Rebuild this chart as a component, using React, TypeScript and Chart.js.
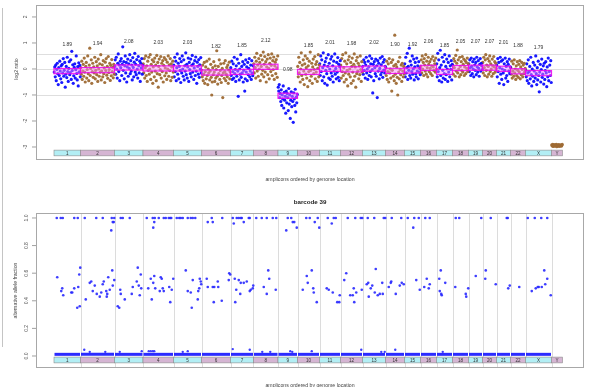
import React, { useEffect, useRef } from "react";
import { Chart, registerables } from "chart.js";

Chart.register(...registerables);

// ---------- data ----------
const chromNames = ["1","2","3","4","5","6","7","8","9","10","11","12","13","14","15","16","17","18","19","20","21","22","X","Y"];
const copyNumbers: (number | null)[] = [1.89,1.94,2.08,2.03,2.03,1.82,1.85,2.12,0.98,1.85,2.01,1.98,2.02,1.90,1.92,2.06,1.85,2.05,2.07,2.07,2.01,1.88,1.79,null];

// log2 ratio of each amplicon, in hundredths, in genome order
const chr1 = [-12,8,-30,15,-45,-2,22,-18,-60,5,-25,30,-8,-38,12,-52,18,-15,40,-28,-5,25,-70,-20,10,-33,45,-10,-48,2,28,-22,-14,35,-40,68,-6,16,-55,-26,6,20,-35,-3,50,-17,-42,9,-65,24,-11,14,-30];
const chr2 = [5,-20,30,-40,-8,18,-28,42,-12,-50,10,25,-35,-2,50,-18,-45,15,80,-25,2,35,-55,-10,22,-32,8,-15,45,-38,-5,28,-22,12,-48,38,0,-28,20,-12,55,-42,-8,16,-30,32,-18,4,-52,26,-6,40,-24,10,-36,48,-14,-2,22,-44,14,-26,36,-10,6,-34,18,-20];
const chr3 = [10,35,-20,45,0,-35,22,58,-10,15,-45,30,5,40,-25,18,85,-5,28,-38,12,50,-15,25,-50,8,38,-28,20,2,55,-18,32,-8,15,-42,44,6,-30,26,60,-12,18,-22,36,0,-35,48,12,-15,30,-48,22,4,40,-20,14];
const chr4 = [20,-15,40,-35,5,50,-25,12,-48,30,-5,45,-20,0,55,-40,18,-12,35,-55,8,28,-30,42,-8,15,-45,52,-18,25,-70,10,38,-22,-2,48,-35,22,-10,32,-50,14,44,-26,4,36,-15,-40,26,0,50,-28,16,-6,40,-45,20,8,-32,30,-12];
const chr5 = [15,-30,45,-10,30,-45,5,58,-20,22,-38,10,40,-5,-52,28,-15,50,0,-28,35,-42,12,-8,62,-22,18,-35,8,42,-48,25,-2,-18,38,-30,14,52,-12,20,-40,4,32,-25,46,-8,-55,26,10,-20,36,-32,16,0,44,-15];
const chr6 = [-5,-30,15,-45,-20,25,-55,-10,8,-38,30,-25,-60,0,-15,38,-42,-8,18,-32,-100,-50,5,-22,28,-12,-48,12,-35,-2,70,-28,-58,10,-18,35,-40,-6,20,-52,-25,2,-110,-15,22,-36,-10,32,-45,-20,6,-30,15,-55,-4,26,-38,-12];
const chr7 = [5,-25,30,-40,-10,20,-35,45,-18,-2,-48,12,-28,38,-8,-105,22,-42,0,-20,55,-32,10,-15,28,-50,-5,18,-85,-38,35,-12,8,-45,25,-22,2,40,-30,-8,15,-40,32,-16,-26,12];
const chr8 = [20,-15,45,5,-35,30,60,-8,15,-28,40,0,25,-45,52,10,-20,35,-5,65,-30,18,48,-12,28,-50,8,38,-22,55,2,-38,22,42,-10,14,58,-25,32,-2,46,-40,12,26,-18,36,4,-32,50];
const chr9 = [-70,-85,-60,-110,-95,-125,-80,-140,-100,-115,-65,-150,-90,-120,-105,-170,-85,-130,-95,-110,-160,-75,-135,-100,-190,-120,-88,-145,-105,-125,-205,-92,-115,-140,-78,-165,-108,-130,-98];
const chr10 = [10,-30,45,-15,25,-50,0,62,-25,15,-40,35,-8,-60,20,50,-20,5,-35,40,-68,12,-10,30,-45,65,-5,-28,22,-55,8,38,-18,-2,48,-38,18,-12,28,-48,2,55,-30,15];
const chr11 = [20,-25,50,-10,35,-45,5,62,-30,15,-55,28,-5,42,-18,-62,10,55,-35,22,0,-40,38,-15,48,-28,12,-50,30,-8,58,-20,2,-38,25,-12,44,-32,18,-45,8,32];
const chr12 = [15,-35,40,-10,55,-25,5,-50,30,-15,62,-40,20,-5,-65,35,-20,48,0,-30,25,-55,10,42,-12,-45,18,58,-28,8,-70,32,-18,45,-8,22,-38,12,-22,50,-2,-48,28,-12];
const chr13 = [10,-20,35,-5,25,-35,15,45,-15,0,-40,30,8,-25,50,-10,20,-30,40,-2,-92,18,-45,28,5,-18,38,-28,12,-110,32,-8,22,-38,2,42,-22,16,-12,48,-32,26,-4,36,-15,10];
const chr14 = [5,-25,30,-40,-10,20,-50,40,-15,0,-35,25,-85,-5,35,-28,12,-45,130,-20,18,-55,8,-32,-100,28,-12,-38,45,-2,-22,15,-48,22,-8,-30,10,-18];
const chr15 = [20,-30,45,-15,5,60,-40,10,-5,80,-25,30,-35,15,-10,50,-20,0,38,-42,8,25,-18,-30,42,-8,12,-38,28,-12,2,-22];
const chr16 = [10,35,-15,50,0,25,-25,40,15,-8,55,-20,30,5,-30,45,18,-10,28,2,-18,38,12,-25,48,8,-5,32,20,-12,42,0];
const chr17 = [20,-30,60,-10,35,-45,5,72,-25,15,-50,45,-5,-35,28,-18,55,-40,10,-22,38,0,-48,25,-12,50,-30,12,-2,32,-42,18];
const chr18 = [15,-20,40,5,30,-28,52,-8,22,73,-15,35,0,-30,45,10,-22,28,-5,48,-12,18,38,-25,8,32,-18,25,2,42,-10,20];
const chr19 = [20,-10,35,5,-25,42,10,-18,28,0,-30,38,15,-5,25,-22,45,8,-12,32,2,-28,18,40,-8,22,12,-2];
const chr20 = [25,-15,45,5,-25,35,55,-5,15,-30,40,10,-20,30,50,-10,20,0,-28,38,12,-18,48,8,28,-12,22,2];
const chr21 = [15,-30,40,-10,25,-55,5,45,-20,30,-40,0,35,-15,-60,20,-5,42,-35,10,-25,28,-48,18,-8,38,-18,8];
const chr22 = [5,-20,30,-35,-8,20,-28,35,-15,0,-40,12,-25,28,-5,-32,18,-12,32,-38,8,-22,25,-2,-30,15,-18,22,-10,2];
const chrX = [-5,-30,20,-45,-15,35,-55,-10,10,-38,45,-22,-65,0,-28,25,-48,-8,15,-35,50,-18,-60,5,-42,30,-25,-88,-12,18,-50,-2,38,-32,-20,12,-58,22,-40,-6,28,-15,-68,8,-30,42,-45,-10,15,-25,32,-52];
const chrY = [-292,-296,-290,-298,-294,-291,-297,-293,-295,-290,-299,-292,-296,-294,-291,-298,-293,-295,-292,-297,-294,-290];

const log2ByChrom = [chr1,chr2,chr3,chr4,chr5,chr6,chr7,chr8,chr9,chr10,chr11,chr12,chr13,chr14,chr15,chr16,chr17,chr18,chr19,chr20,chr21,chr22,chrX,chrY];

const log2Ticks = [2, 1, 0, -1, -2, -3];
const log2RefLines = [0.585, 0, -1];
const bafTicks = [0, 0.2, 0.4, 0.6, 0.8, 1.0];

// alternative allele fraction: [amplicon index, fraction]
const homAltSnps: [number, number][] = [
  [5,1],[13,1],[17,1],[40,1],[47,1],
  [61,1],[84,1],[97,1],[114,0.91],[115,1],[117,0.97],[119,0.97],[120,1],
  [133,1],[137,1],[151,1],
  [185,1],[197,1],[198,0.93],[200,0.97],[201,1],[209,1],[219,1],[223,1],[229,1],[232,1],[234,1],
  [245,1],[250,1],[253,1],[257,1],[267,1],[273,1],[277,1],[282,1],
  [307,0.97],[315,1],[317,0.97],[336,1],
  [357,1],[359,0.96],[365,1],[369,1],[373,1],[375,1],[379,0.97],[389,1],[391,1],
  [404,1],[415,1],[425,1],[437,1],[444,1],
  [464,0.91],[467,1],[474,1],[477,0.97],[480,0.97],[485,0.93],
  [504,1],[511,1],[521,0.97],[527,1],[530,0.93],
  [547,1],[555,0.96],[559,1],[563,1],
  [587,1],[602,1],[613,1],[616,1],
  [627,1],[640,1],[659,1],[662,1],
  [675,1],[694,1],
  [707,1],[718,0.93],[720,1],[729,1],
  [742,1],[751,1],
  [803,1],[810,1],
  [854,1],
  [873,1],
  [905,1],[907,1],
  [947,1],[961,1],[974,1],[986,1],
];
const hetSnps: [number, number][] = [
  [6,0.57],[14,0.47],[16,0.49],[18,0.44],[34,0.46],[36,0.46],[40,0.49],[46,0.35],[48,0.50],[50,0.59],[52,0.64],[51,0.36],
  [63,0.41],[71,0.53],[74,0.54],[77,0.47],[81,0.51],[85,0.45],[91,0.43],[94,0.46],[97,0.52],[99,0.54],[104,0.47],[105,0.43],[106,0.45],[108,0.57],[111,0.48],[117,0.51],[116,0.62],[120,0.55],
  [127,0.36],[130,0.35],[132,0.48],[133,0.45],[141,0.41],[155,0.45],[157,0.50],[165,0.54],[167,0.64],[169,0.51],[171,0.44],[173,0.59],[174,0.49],
  [188,0.49],[193,0.56],[195,0.41],[198,0.53],[200,0.58],[202,0.49],[211,0.47],[213,0.57],[215,0.56],[217,0.49],[219,0.47],[230,0.50],[232,0.39],[235,0.48],[238,0.56],
  [263,0.62],[267,0.47],[273,0.46],[275,0.35],[277,0.55],[287,0.41],[288,0.47],[290,0.49],[291,0.56],[293,0.54],[294,0.52],
  [305,0.56],[307,0.50],[317,0.50],[319,0.39],[320,0.50],[327,0.54],[328,0.50],[335,0.40],[349,0.55],[350,0.60],[352,0.59],
  [361,0.56],[362,0.39],[364,0.48],[369,0.55],[372,0.45],[373,0.53],[379,0.53],[385,0.54],[391,0.47],[393,0.48],[397,0.49],[398,0.51],
  [419,0.50],[425,0.45],[428,0.62],[430,0.56],[443,0.48],
  [497,0.48],[505,0.58],[507,0.53],[515,0.62],[518,0.49],[519,0.46],[525,0.39],
  [545,0.49],[549,0.48],[557,0.46],[566,0.39],[570,0.39],[571,0.44],
  [580,0.55],[584,0.60],[592,0.44],[597,0.44],[599,0.49],[600,0.39],[604,0.46],[615,0.48],
  [625,0.52],[628,0.53],[629,0.43],[633,0.49],[636,0.51],[641,0.46],[643,0.63],[647,0.44],[651,0.45],[656,0.53],[657,0.45],
  [669,0.50],[673,0.53],[674,0.54],[683,0.45],[691,0.51],[695,0.53],[699,0.52],
  [724,0.55],[731,0.48],
  [740,0.50],[745,0.56],[749,0.49],[751,0.52],
  [770,0.56],[773,0.62],[771,0.47],[774,0.45],[775,0.44],[782,0.53],
  [802,0.50],[823,0.45],[824,0.43],[828,0.49],
  [843,0.58],
  [863,0.62],[862,0.56],[883,0.52],
  [908,0.49],[911,0.51],
  [930,0.50],
  [955,0.47],[963,0.49],[967,0.50],[969,0.50],[975,0.50],[980,0.62],[982,0.52],[986,0.56],[993,0.44],
];
const lowBafSnps: [number, number][] = [
  [60,0.045],[71,0.03],[102,0.03],[131,0.03],[175,0.035],[189,0.035],[193,0.035],[197,0.035],[200,0.035],
  [257,0.03],[267,0.035],[357,0.05],[391,0.045],[416,0.03],[432,0.03],[472,0.035],[476,0.03],[515,0.035],
  [614,0.045],[654,0.03],[661,0.03],[682,0.045],[777,0.03],
];
// chromosomes whose homozygous-reference SNPs form the band at 0
const refBandChroms = chromNames.filter((n) => n !== "Y");

// ---------- derived ----------
const chromSizes = log2ByChrom.map((a) => a.length);
const chromStarts: number[] = [];
chromSizes.reduce((acc, n) => { chromStarts.push(acc); return acc + n; }, 0);
const chromEnds = chromStarts.map((s, i) => s + chromSizes[i]);

const BLUE = "rgba(0,0,255,0.9)";
const BROWN = "rgba(158,106,52,0.95)";
const FONT = '"Liberation Sans", Arial, sans-serif';
const X_MIN = -36;
const X_MAX = 1060;

// ---------- drawing helpers ----------
function drawFrame(chart: any) {
  const { ctx, chartArea: a } = chart;
  ctx.save();
  ctx.strokeStyle = "#a8a8a8";
  ctx.lineWidth = 1;
  ctx.strokeRect(Math.round(a.left) + 0.5, Math.round(a.top) + 0.5, Math.round(a.right - a.left) - 1, Math.round(a.bottom - a.top) - 1);
  ctx.restore();
}

function drawYAxis(chart: any, ticks: number[], fmt: (v: number) => string, labelX: number, title: string, titleX: number, titleY: number) {
  const { ctx, chartArea: a, scales } = chart;
  const y = scales.y;
  ctx.save();
  ctx.strokeStyle = "#888";
  ctx.lineWidth = 0.8;
  ctx.fillStyle = "#555";
  ctx.font = `5px ${FONT}`;
  ctx.textAlign = "center";
  ctx.textBaseline = "middle";
  ticks.forEach((t) => {
    const py = y.getPixelForValue(t);
    ctx.beginPath();
    ctx.moveTo(a.left - 4, py);
    ctx.lineTo(a.left, py);
    ctx.stroke();
    ctx.save();
    ctx.translate(labelX, py);
    ctx.rotate(-Math.PI / 2);
    ctx.fillText(fmt(t), 0, 0);
    ctx.restore();
  });
  ctx.fillStyle = "#444";
  ctx.font = `5.2px ${FONT}`;
  ctx.save();
  ctx.translate(titleX, titleY);
  ctx.rotate(-Math.PI / 2);
  ctx.fillText(title, 0, 0);
  ctx.restore();
  ctx.restore();
}

function drawChromBars(chart: any, vTop: number, vBot: number) {
  const { ctx, scales } = chart;
  const x = scales.x, y = scales.y;
  const y0 = y.getPixelForValue(vTop);
  const y1 = y.getPixelForValue(vBot);
  ctx.save();
  ctx.font = `4.6px ${FONT}`;
  ctx.textAlign = "center";
  ctx.textBaseline = "middle";
  chromNames.forEach((name, c) => {
    const x0 = x.getPixelForValue(chromStarts[c]);
    const x1 = x.getPixelForValue(chromEnds[c]);
    ctx.fillStyle = c % 2 === 0 ? "#b2eef4" : "#d5b5d3";
    ctx.fillRect(x0, y0, x1 - x0, y1 - y0);
    ctx.strokeStyle = "#8c8c8c";
    ctx.lineWidth = 0.6;
    ctx.strokeRect(x0, y0, x1 - x0, y1 - y0);
    ctx.fillStyle = "#333";
    ctx.fillText(name, (x0 + x1) / 2, (y0 + y1) / 2 + 0.3);
  });
  ctx.restore();
}

function drawXTitle(chart: any, py: number) {
  const { ctx, chartArea: a } = chart;
  ctx.save();
  ctx.fillStyle = "#444";
  ctx.font = `5.2px ${FONT}`;
  ctx.textAlign = "center";
  ctx.textBaseline = "middle";
  ctx.fillText("amplicons ordered by genome location", (a.left + a.right) / 2, py);
  ctx.restore();
}

const topDecor = {
  id: "topDecor",
  beforeDatasetsDraw(chart: any) {
    const { ctx, chartArea: a, scales } = chart;
    const y = scales.y;
    ctx.save();
    ctx.strokeStyle = "#dedede";
    ctx.lineWidth = 1;
    log2RefLines.forEach((v) => {
      const py = Math.round(y.getPixelForValue(v)) + 0.5;
      ctx.beginPath();
      ctx.moveTo(a.left, py);
      ctx.lineTo(a.right, py);
      ctx.stroke();
    });
    ctx.restore();
    drawChromBars(chart, -3.12, -3.34);
  },
  afterDatasetsDraw(chart: any) {
    const { ctx, scales } = chart;
    const x = scales.x, y = scales.y;
    ctx.save();
    copyNumbers.forEach((cn, c) => {
      if (cn == null) return;
      const v = Math.log2(cn / 2);
      const x0 = x.getPixelForValue(chromStarts[c]);
      const x1 = x.getPixelForValue(chromEnds[c]);
      const y0 = y.getPixelForValue(v + 0.1);
      const y1 = y.getPixelForValue(v - 0.1);
      ctx.fillStyle = "rgba(255,130,255,0.45)";
      ctx.fillRect(x0, y0, x1 - x0, y1 - y0);
      ctx.strokeStyle = "rgba(238,0,238,0.85)";
      ctx.lineWidth = 1.2;
      ctx.strokeRect(x0, y0, x1 - x0, y1 - y0);
      ctx.fillStyle = "#333";
      ctx.font = `5px ${FONT}`;
      ctx.textAlign = "center";
      ctx.textBaseline = "middle";
      ctx.fillText(cn.toFixed(2), (x0 + x1) / 2, y.getPixelForValue(v + 1.0));
    });
    ctx.restore();
    drawFrame(chart);
    drawYAxis(chart, log2Ticks, (t) => String(t), 26, "log2 ratio", 17, 69);
    drawXTitle(chart, 180);
  },
};

const bottomDecor = {
  id: "bottomDecor",
  beforeDatasetsDraw(chart: any) {
    const { ctx, chartArea: a, scales } = chart;
    const x = scales.x;
    ctx.save();
    ctx.strokeStyle = "#dcdcdc";
    ctx.lineWidth = 1;
    chromStarts.slice(1).forEach((s) => {
      const px = Math.round(x.getPixelForValue(s)) + 0.5;
      ctx.beginPath();
      ctx.moveTo(px, a.top);
      ctx.lineTo(px, a.bottom);
      ctx.stroke();
    });
    ctx.restore();
  },
  afterDatasetsDraw(chart: any) {
    const { ctx, chartArea: a } = chart;
    drawChromBars(chart, -0.008, -0.05);
    drawFrame(chart);
    drawYAxis(chart, bafTicks, (t) => t.toFixed(1), 27, "alternative allele fraction", 16, (a.top + a.bottom) / 2);
    drawXTitle(chart, 191);
    ctx.save();
    ctx.fillStyle = "#222";
    ctx.font = `bold 6.2px ${FONT}`;
    ctx.textAlign = "center";
    ctx.textBaseline = "middle";
    ctx.fillText("barcode 39", (a.left + a.right) / 2, 7);
    ctx.restore();
  },
};

const baseOptions = (yMin: number, yMax: number, padding: any) => ({
  responsive: false,
  animation: false as const,
  devicePixelRatio: 1,
  events: [] as any[],
  layout: { padding },
  plugins: { legend: { display: false }, tooltip: { enabled: false } },
  scales: {
    x: { type: "linear" as const, min: X_MIN, max: X_MAX, display: false },
    y: { type: "linear" as const, min: yMin, max: yMax, display: false },
  },
});

export default function App() {
  const topRef = useRef<HTMLCanvasElement>(null);
  const botRef = useRef<HTMLCanvasElement>(null);

  useEffect(() => {
    const topDatasets = log2ByChrom.map((vals, c) => ({
      type: "scatter" as const,
      label: "chr" + chromNames[c],
      data: vals.map((v, i) => ({ x: chromStarts[c] + i + 0.5, y: v / 100 })),
      pointRadius: 1.6,
      pointBorderWidth: 0,
      pointBackgroundColor: c % 2 === 0 ? BLUE : BROWN,
      showLine: false,
    }));
    const top = new Chart(topRef.current!, {
      type: "scatter",
      data: { datasets: topDatasets as any },
      options: baseOptions(-3.5, 2.46, { left: 36, right: 7, top: 5, bottom: 35 }) as any,
      plugins: [topDecor],
    });

    const bandSets = refBandChroms.map((name) => {
      const c = chromNames.indexOf(name);
      return {
        type: "line" as const,
        label: "ref " + name,
        data: [
          { x: chromStarts[c] + 1, y: 0.012 },
          { x: chromEnds[c] - 1, y: 0.012 },
        ],
        borderColor: "rgba(20,20,255,0.9)",
        borderWidth: 3,
        pointRadius: 0,
        fill: false,
      };
    });
    const snpSet = (label: string, pts: [number, number][], r: number) => ({
      type: "scatter" as const,
      label,
      data: pts.map(([i, f]) => ({ x: i + 0.5, y: f })),
      pointRadius: r,
      pointBorderWidth: 0,
      pointBackgroundColor: "rgba(40,40,255,0.9)",
      showLine: false,
    });
    const bottom = new Chart(botRef.current!, {
      type: "scatter",
      data: {
        datasets: [
          ...bandSets,
          snpSet("low", lowBafSnps, 1.2),
          snpSet("het", hetSnps, 1.3),
          snpSet("homAlt", homAltSnps, 1.3),
        ] as any,
      },
      options: baseOptions(-0.087, 1.036, { left: 36, right: 7, top: 18, bottom: 19 }) as any,
      plugins: [bottomDecor],
    });

    return () => {
      top.destroy();
      bottom.destroy();
    };
  }, []);

  return (
    <div style={{ position: "fixed", left: 0, top: 0, width: 591, height: 387, background: "#fff", overflow: "hidden" }}>
      <canvas ref={topRef} width={591} height={195} style={{ position: "absolute", left: 0, top: 0, width: 591, height: 195 }} />
      <canvas ref={botRef} width={591} height={192} style={{ position: "absolute", left: 0, top: 195, width: 591, height: 192 }} />
      <div style={{ position: "absolute", left: 2, top: 8, width: 0, height: 339, borderLeft: "1px solid #c4c4c4" }} />
    </div>
  );
}
